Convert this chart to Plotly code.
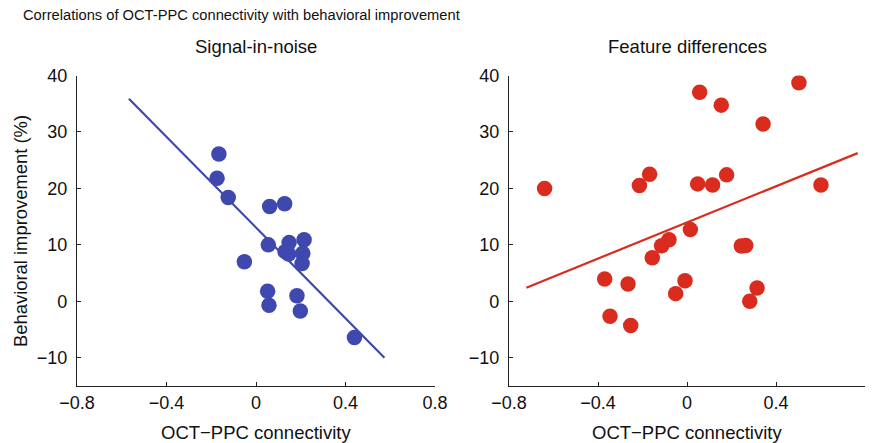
import plotly.graph_objects as go

# Signal-in-noise data
sin_x = [-0.166, -0.174, -0.124, -0.052, 0.061, 0.128, 0.055, 0.148, 0.130, 0.146,
         0.215, 0.209, 0.206, 0.052, 0.058, 0.183, 0.198, 0.440]
sin_y = [26.1, 21.8, 18.4, 7.0, 16.8, 17.3, 10.0, 10.4, 8.8, 8.4,
         10.9, 8.5, 6.7, 1.8, -0.7, 1.0, -1.7, -6.4]
sin_fit_x = [-0.568, 0.574]
sin_fit_y = [35.9, -10.0]

# Feature differences data
fd_x = [-0.640, -0.214, -0.168, 0.057, 0.154, 0.342, 0.503, 0.048, 0.115, 0.178,
        0.602, 0.015, -0.114, -0.081, -0.156, -0.370, -0.265, -0.346, -0.253,
        -0.051, -0.009, 0.244, 0.264, 0.315, 0.282]
fd_y = [20.0, 20.5, 22.5, 37.05, 34.75, 31.4, 38.7, 20.8, 20.6, 22.4,
        20.6, 12.7, 9.85, 10.9, 7.7, 3.95, 3.07, -2.65, -4.3,
        1.36, 3.66, 9.8, 9.9, 2.36, 0.0]
fd_fit_x = [-0.722, 0.767]
fd_fit_y = [2.42, 26.25]

x_ticks = [-0.8, -0.4, 0, 0.4, 0.8]
x_ticktext = ["\u22120.8", "\u22120.4", "0", "0.4", "0.8"]
y_ticks = [-10, 0, 10, 20, 30, 40]
y_ticktext = ["\u221210", "0", "10", "20", "30", "40"]

BLUE = "#3F48AE"
RED = "#DA2C1E"
FONT = "Liberation Sans, Arial, Helvetica, sans-serif"
TXT = "#111"

fig = go.Figure()
fig.add_trace(go.Scatter(x=sin_x, y=sin_y, mode="markers",
                         marker=dict(size=15.5, color=BLUE, line=dict(width=0)),
                         xaxis="x", yaxis="y", showlegend=False))
fig.add_trace(go.Scatter(x=sin_fit_x, y=sin_fit_y, mode="lines",
                         line=dict(color=BLUE, width=2.2),
                         xaxis="x", yaxis="y", showlegend=False))
fig.add_trace(go.Scatter(x=fd_x, y=fd_y, mode="markers",
                         marker=dict(size=15.5, color=RED, line=dict(width=0)),
                         xaxis="x2", yaxis="y2", showlegend=False))
fig.add_trace(go.Scatter(x=fd_fit_x, y=fd_fit_y, mode="lines",
                         line=dict(color=RED, width=2.2),
                         xaxis="x2", yaxis="y2", showlegend=False))

ydom = [1 - 386 / 443, 1 - 75.5 / 443]
common_x = dict(range=[-0.8, 0.8], tickvals=x_ticks, ticktext=x_ticktext,
                showgrid=False, zeroline=False, showline=True, linecolor="#222",
                linewidth=1.2, ticks="inside", ticklen=4, tickcolor="#222",
                tickfont=dict(size=18, color=TXT), automargin=False)
common_y = dict(range=[-15, 40], tickvals=y_ticks, ticktext=y_ticktext,
                showgrid=False, zeroline=False, showline=True, linecolor="#222",
                linewidth=1.2, ticks="inside", ticklen=4, tickcolor="#222",
                tickfont=dict(size=18, color=TXT), domain=ydom, automargin=False,
                ticklabelstandoff=5)


def label(text, x, y, size, angle=0, xanchor="center"):
    return dict(text=text, x=x / 877, y=1 - y / 443, xref="paper", yref="paper",
                xanchor=xanchor, yanchor="middle", showarrow=False, textangle=angle,
                font=dict(size=size, color=TXT))


fig.update_layout(
    width=877, height=443,
    margin=dict(l=0, r=0, t=0, b=0),
    plot_bgcolor="white", paper_bgcolor="white",
    font=dict(family=FONT, color=TXT),
    xaxis=dict(domain=[77 / 877, 435 / 877], anchor="y", **common_x),
    yaxis=dict(anchor="x", **common_y),
    xaxis2=dict(domain=[509 / 877, 865 / 877], anchor="y2", **common_x),
    yaxis2=dict(anchor="x2", **common_y),
    annotations=[
        label("Correlations of OCT-PPC connectivity with behavioral improvement",
              21, 15, 14.7, xanchor="left"),
        label("Signal-in-noise", 256, 47, 18.5),
        label("Feature differences", 687, 47, 18.5),
        label("OCT\u2212PPC connectivity", 256, 432, 18.5),
        label("OCT\u2212PPC connectivity", 687, 432, 18.5),
        label("Behavioral improvement (%)", 20, 231, 18.4, angle=-90),
    ],
)

fig.write_html("out.html")
